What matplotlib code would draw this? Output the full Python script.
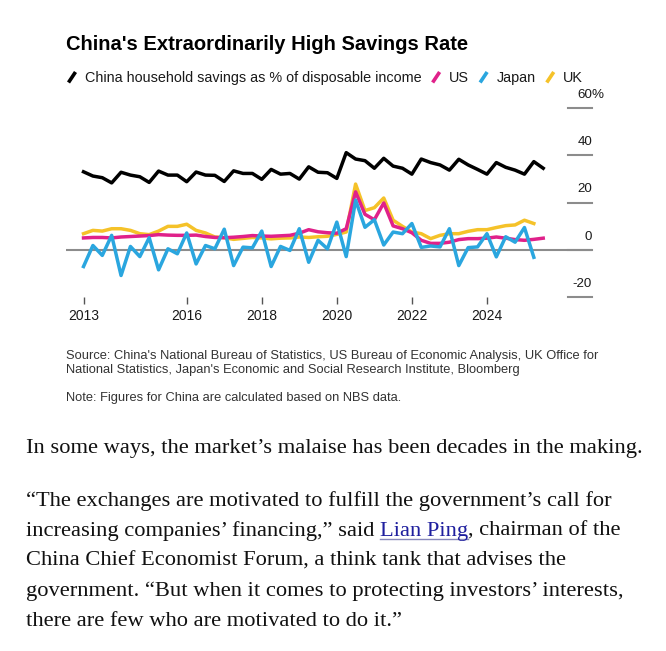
import matplotlib
matplotlib.use("Agg")
import matplotlib.pyplot as plt
import matplotlib.transforms as mtransforms
from matplotlib.lines import Line2D
import pandas as pd

# ---------------- data ----------------
quarters = pd.period_range("2013Q1", "2025Q2", freq="Q")

china = [33.0, 31.2, 30.5, 28.3, 32.8, 31.6, 30.9, 28.5, 33.3, 31.6, 31.6, 28.8,
         32.9, 31.6, 31.5, 28.9, 33.4, 32.3, 32.3, 29.8, 34.0, 32.0, 32.3, 29.9,
         35.1, 32.8, 32.6, 30.2, 41.1, 38.4, 37.7, 34.5, 38.7, 35.4, 34.5, 32.0,
         38.4, 36.9, 35.9, 33.7, 38.3, 35.9, 34.0, 32.0, 36.9, 34.9, 33.7, 32.0,
         37.3, 34.5]
us = [5.0, 5.2, 5.2, 5.0, 5.4, 5.6, 5.8, 6.0, 6.4, 6.2, 6.1, 6.1,
      6.2, 5.6, 5.2, 5.1, 5.3, 5.6, 6.0, 5.8, 5.7, 5.9, 6.1, 7.0,
      8.5, 7.6, 7.2, 7.0, 8.9, 24.5, 15.0, 12.7, 19.8, 10.1, 8.9, 7.2,
      4.0, 2.7, 2.7, 3.2, 4.3, 4.7, 4.7, 4.9, 5.4, 4.9, 4.3, 4.0,
      4.4, 4.9]
japan = [-7.1, 1.8, -2.4, 6.1, -10.9, 1.4, -2.9, 5.1, -8.5, 0.4, -1.7, 7.1,
         -6.0, 1.8, 0.4, 8.7, -6.7, 1.1, 0.8, 7.9, -7.1, 1.4, -0.3, 8.9,
         -5.3, 4.0, 0.4, 11.7, -2.9, 21.0, 9.5, 12.7, 2.0, 7.5, 6.8, 11.1,
         1.0, 1.6, 1.2, 8.9, -6.7, 0.9, 1.2, 6.8, -3.0, 5.5, 3.2, 9.4,
         -3.2]
uk = [6.8, 8.2, 7.9, 8.9, 8.9, 8.2, 6.8, 6.4, 7.9, 9.9, 9.9, 10.8,
      8.2, 7.1, 5.4, 5.1, 4.4, 4.8, 5.2, 5.0, 4.6, 4.9, 5.0, 5.4,
      5.2, 5.5, 5.7, 6.5, 7.5, 27.8, 16.6, 17.8, 21.9, 12.5, 9.9, 7.5,
      6.8, 4.7, 6.1, 6.8, 6.8, 7.8, 8.5, 8.5, 9.4, 10.2, 10.5, 12.5,
      11.1]

series_names = ["China household savings as % of disposable income", "US", "Japan", "UK"]
xtick_labels = ["2013", "2016", "2018", "2020", "2022", "2024"]
ytick_values = [60, 40, 20, 0, -20]
ytick_labels = ["60", "40", "20", "0", "-20"]

title = "China's Extraordinarily High Savings Rate"
source_lines = ["Source: China's National Bureau of Statistics, US Bureau of Economic Analysis, UK Office for",
                "National Statistics, Japan's Economic and Social Research Institute, Bloomberg"]
note = "Note: Figures for China are calculated based on NBS data."
body1 = "In some ways, the market\u2019s malaise has been decades in the making."
body2 = ["\u201cThe exchanges are motivated to fulfill the government\u2019s call for",
         None,
         "China Chief Economist Forum, a think tank that advises the",
         "government. \u201cBut when it comes to protecting investors\u2019 interests,",
         "there are few who are motivated to do it.\u201d"]
body_link = ["increasing companies\u2019 financing,\u201d said ", "Lian Ping", ", chairman of the"]

# ---------------- style ----------------
C_CHINA = "#000000"
C_US = "#e0218a"
C_JAPAN = "#2aa6df"
C_UK = "#f5c229"
SANS = ["Liberation Sans", "DejaVu Sans"]
SERIF = ["Liberation Serif", "DejaVu Serif"]

W, H = 666, 651
fig = plt.figure(figsize=(W / 100, H / 100), dpi=100)
fig.patch.set_facecolor("white")
renderer = fig.canvas.get_renderer()


def fx(x):
    return x / W


def fy(y):
    return 1 - y / H


def width_of(t):
    return t.get_window_extent(renderer).width


def fit_text(x, y, s, target_w, base=12, **kw):
    t = fig.text(fx(x), fy(y), s, fontsize=base, va="baseline", **kw)
    t.set_fontsize(base * target_w / width_of(t))
    return t


# ---------------- chart ----------------
xq = quarters.year + quarters.quarter / 4.0
ax = fig.add_axes([fx(66), fy(297), (592 - 66) / W, (297 - 108) / H])
ax.set_facecolor("none")
ax.set_xlim(xq[0] - 0.467, 2026.8)
ax.set_ylim(-20, 60)
for s in ax.spines.values():
    s.set_visible(False)

ax.axhline(0, color="#8c8c8c", lw=1.5, zorder=1)
blend = mtransforms.blended_transform_factory(ax.transAxes, ax.transData)
for v, lab in zip(ytick_values, ytick_labels):
    ax.plot([0.954, 1.0], [v, v], transform=blend, color="#8c8c8c", lw=1.5, clip_on=False)
    ax.annotate(lab, xy=(1.0, v), xycoords=blend, xytext=(0, 9.4), textcoords="offset points",
                ha="right", va="center", fontsize=9.6, family=SANS, color="#1a1a1a")
ax.annotate("%", xy=(1.0, 60), xycoords=blend, xytext=(0, 9.4), textcoords="offset points",
            ha="left", va="center", fontsize=9.6, family=SANS, color="#1a1a1a")

lw = 2.5
ax.plot(xq[:len(uk)], uk, color=C_UK, lw=lw, zorder=3, solid_joinstyle="round")
ax.plot(xq[:len(us)], us, color=C_US, lw=lw, zorder=4, solid_joinstyle="round")
ax.plot(xq[:len(japan)], japan, color=C_JAPAN, lw=lw, zorder=5, solid_joinstyle="round")
ax.plot(xq[:len(china)], china, color=C_CHINA, lw=lw, zorder=6, solid_joinstyle="round")

ax.set_yticks([])
ax.set_xticks([xq[0], 2016, 2018, 2020, 2022, 2024])
ax.set_xticklabels(xtick_labels, fontsize=10, family=SANS, color="#1a1a1a")
ax.tick_params(axis="x", direction="out", length=5, width=1, color="#555555", pad=3.5)

# ---------------- title & legend ----------------
fit_text(65.5, 50, title, 400, weight="bold", family=SANS, color="#000000")

leg_y = 82
colors = [C_CHINA, C_US, C_JAPAN, C_UK]
t0 = fig.text(fx(85), fy(leg_y), series_names[0], fontsize=10, va="baseline",
              family=SANS, color="#1a1a1a")
t0.set_fontsize(10 * 338 / width_of(t0))
fs_leg = t0.get_fontsize()
cur = 67.5
for i, (name, col) in enumerate(zip(series_names, colors)):
    fig.add_artist(Line2D([fx(cur + 1), fx(cur + 8)], [fy(leg_y + 0.5), fy(leg_y - 10)],
                          color=col, lw=2.6, solid_capstyle="butt"))
    tx = cur + 17.5
    if i == 0:
        t = t0
        t.set_x(fx(tx))
    else:
        t = fig.text(fx(tx), fy(leg_y), name, fontsize=fs_leg, va="baseline",
                     family=SANS, color="#1a1a1a")
    cur = tx + width_of(t) + 10

# ---------------- source & note ----------------
ts = fit_text(65.5, 359.5, source_lines[0], 536, family=SANS, color="#333333")
fig.text(fx(65.5), fy(373.5), source_lines[1], fontsize=ts.get_fontsize(), va="baseline",
         family=SANS, color="#333333")
fig.text(fx(65.5), fy(401.5), note, fontsize=ts.get_fontsize(), va="baseline",
         family=SANS, color="#333333")

# ---------------- body text ----------------
bx = 26
tb = fit_text(bx, 453, body1, 614, family=SERIF, color="#111111")
fsb = tb.get_fontsize()
ys = [506, 536, 566, 596, 626]
for y, line in zip(ys, body2):
    if line is not None:
        fig.text(fx(bx), fy(y), line, fontsize=fsb, va="baseline", family=SERIF, color="#111111")
    else:
        cx = bx
        for j, seg in enumerate(body_link):
            col = "#1f1f9e" if j == 1 else "#111111"
            t = fig.text(fx(cx), fy(y), seg, fontsize=fsb, va="baseline", family=SERIF, color=col)
            w = width_of(t)
            if j == 1:
                fig.add_artist(Line2D([fx(cx), fx(cx + w)], [fy(y + 3), fy(y + 3)],
                                      color="#8888bb", lw=1))
            cx += w

fig.savefig("out.png", dpi=100, facecolor="white")
